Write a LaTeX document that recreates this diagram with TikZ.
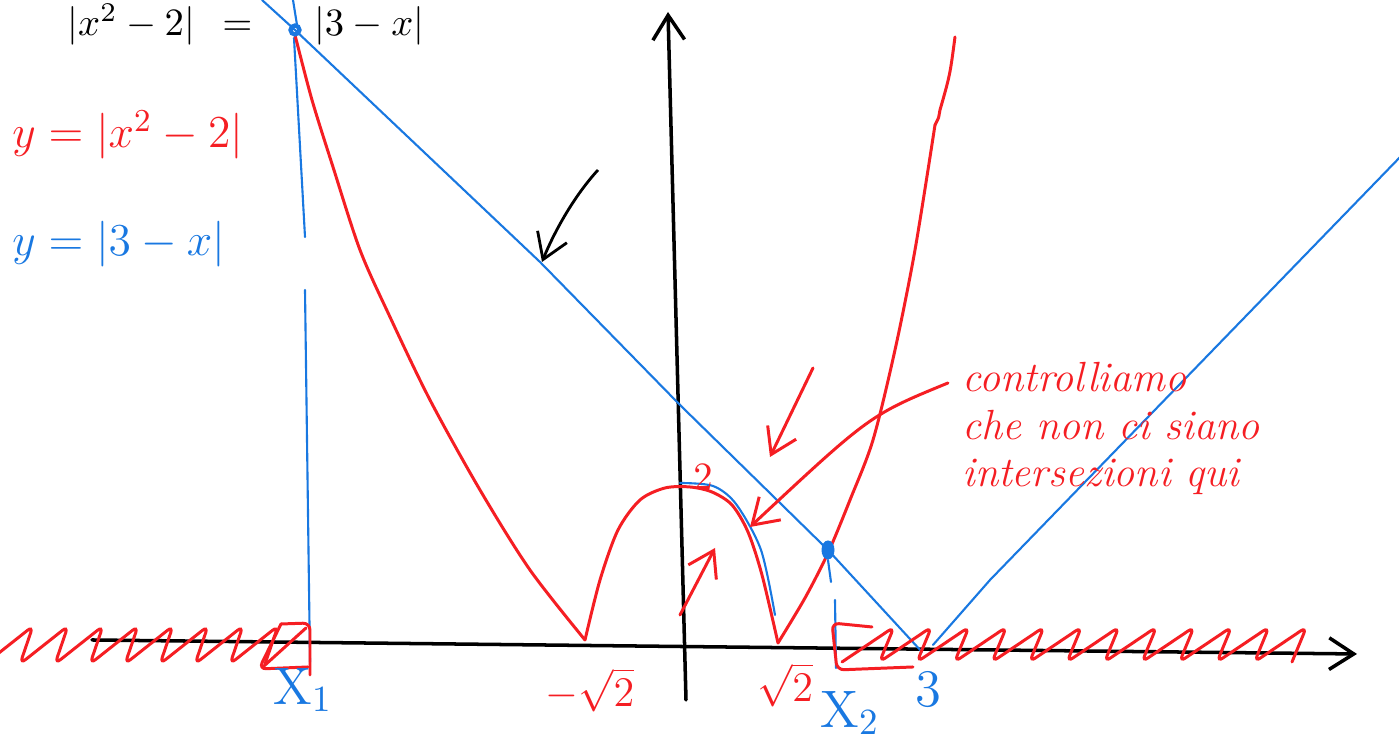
\documentclass[tikz,border=0pt]{standalone}
\usepackage{fix-cm}
\usepackage{tkz-euclide}
\usetikzlibrary{arrows.meta,calc}
\definecolor{PenBlueClr}{RGB}{25,120,225}
\definecolor{PenRedClr}{RGB}{245,30,35}
\tikzset{
  axisline/.style={line width=1pt,black,line cap=round},
  blueline/.style={line width=0.6pt,PenBlueClr,line cap=round},
  redline/.style={line width=0.85pt,PenRedClr,line cap=round,line join=round},
  hatchline/.style={line width=0.85pt,PenRedClr,rounded corners=2pt,line cap=round},
  barb/.style={-{Straight Barb[length=7pt,width=9pt]}},
  redlbl/.style={PenRedClr,font=\fontsize{12}{14}\selectfont},
  bluelbl/.style={PenBlueClr,font=\fontsize{15}{17}\selectfont},
}

\begin{document}
\begin{tikzpicture}
\useasboundingbox (0,0) rectangle (13.99,7.40);

% axes
\tkzDefPoints{0.92/1.00/O1,13.57/0.86/O2,6.86/0.40/O3,6.68/7.28/O4}
\draw[axisline,barb] (O1) -- (O2);
\draw[axisline,barb] (O3) -- (O4);

% y=|3-x|
\tkzDefPoints{2.62/7.40/B0,2.95/7.10/S1,5.40/4.78/B1,6.80/3.35/B2,8.28/1.90/S2,9.22/0.88/B3}
\tkzDefPoints{9.33/0.95/B4,9.90/1.60/B5,14.05/5.88/B6}
\draw[blueline] (B0) -- (S1) -- (B1) -- (B2) -- (S2) -- (B3);
\draw[blueline] (B4) -- (B5) -- (B6);
\draw[blueline] (2.93,7.40) -- (2.97,7.15);
\draw[blueline] (2.94,7.02) -- (3.05,5.03);
\draw[blueline] (3.05,4.50) -- (3.10,0.78);
\draw[blueline] (8.28,1.80) -- (8.31,1.58);
\draw[blueline] (8.35,1.40) -- (8.36,0.72);
\draw[blueline] plot[smooth] coordinates {(6.80,2.57) (7.13,2.54) (7.36,2.36) (7.61,1.90) (7.75,1.25)};

% y=|x^2-2|
\draw[redline] plot[smooth] coordinates {(2.95,7.05) (3.12,6.40) (3.33,5.73) (3.60,4.90) (3.90,4.23)
  (4.30,3.40) (4.80,2.50) (5.30,1.70) (5.85,1.00)};
\draw[redline] plot[smooth] coordinates {(5.85,1.00) (6.00,1.60) (6.18,2.10) (6.40,2.40) (6.65,2.52)
  (6.90,2.53) (7.12,2.48) (7.32,2.35) (7.48,2.08) (7.62,1.65) (7.78,0.97)};
\draw[redline] plot[smooth] coordinates {(7.78,0.97) (8.05,1.42) (8.28,1.87) (8.50,2.40) (8.73,3.00)
  (8.95,3.90) (9.15,4.90) (9.35,6.15)};
\draw[redline] (9.35,6.15) .. controls (9.40,6.25) and (9.38,6.20) .. (9.40,6.30)
  .. controls (9.50,6.65) .. (9.55,7.03);

% intersections
\draw[PenBlueClr,line width=1.2pt] (S1) circle (0.045);
\fill[PenBlueClr] (S2) ellipse (0.065 and 0.095);

% solutions
\draw[hatchline] (-0.15,0.76) \foreach \i in {1,...,8}{ -- ++(0.48,0.38) -- ++(-0.13,-0.38)};
\draw[hatchline] (2.81,1.16) -- (3.10,1.17) -- (3.10,0.65);
\draw[hatchline] (2.81,1.16) -- (2.59,0.71) -- (3.08,0.73);
\draw[hatchline] (2.64,0.74) -- (3.06,1.12);
\draw[hatchline] (8.72,1.13) -- (8.32,1.17) -- (8.37,0.70) -- (9.13,0.73);
\draw[hatchline] (8.42,0.78) \foreach \i in {1,...,12}{ -- ++(0.52,0.35) -- ++(-0.145,-0.35)};

% texts
\node[anchor=base west,font=\fontsize{11}{13}\selectfont] (eq) at (0.55,7.04) {$|x^2-2|\hspace{4.8pt}=\quad\hspace{3.5pt}|3-x|$};
\node[anchor=base west,PenRedClr,font=\fontsize{13}{15}\selectfont] (fred) at (0.00,5.92) {$y=|x^2-2|$};
\node[anchor=base west,PenBlueClr,font=\fontsize{13}{15}\selectfont] (fblue) at (0.00,4.84) {$y=|3-x|$};
\node[bluelbl] (lx1) at (3.03,0.50) {$\mathrm{X}_1$};
\node[redlbl] (lm) at (5.90,0.50) {$-\sqrt{2}$};
\node[redlbl] (lp) at (7.85,0.55) {$\sqrt{2}$};
\node[bluelbl] (lx2) at (8.50,0.27) {$\mathrm{X}_2$};
\node[bluelbl] (lthree) at (9.28,0.50) {$3$};
\node[PenRedClr,font=\fontsize{11}{13}\selectfont] (ltwo) at (7.03,2.63) {$2$};
\node[PenRedClr,anchor=north west,align=left,font=\fontsize{12}{13.5}\itshape] (note) at (9.50,3.90)
  {controlliamo\\che non ci siano\\intersezioni qui};

% arrows
\tkzDefPoints{5.98/5.70/K0,5.42/4.78/K1,8.13/3.72/A0,7.70/2.83/A1,9.48/3.57/C0,7.50/2.13/C1,6.80/1.25/D0,7.15/1.92/D1}
\draw[line width=0.8pt,barb] (K0) .. controls (5.75,5.45) and (5.55,5.10) .. (K1);
\draw[redline,barb] (A0) -- (A1);
\draw[redline,barb] (C0) .. controls (8.70,3.25) .. (C1);
\draw[redline,barb] (D0) -- (D1);

\end{tikzpicture}
\end{document}
